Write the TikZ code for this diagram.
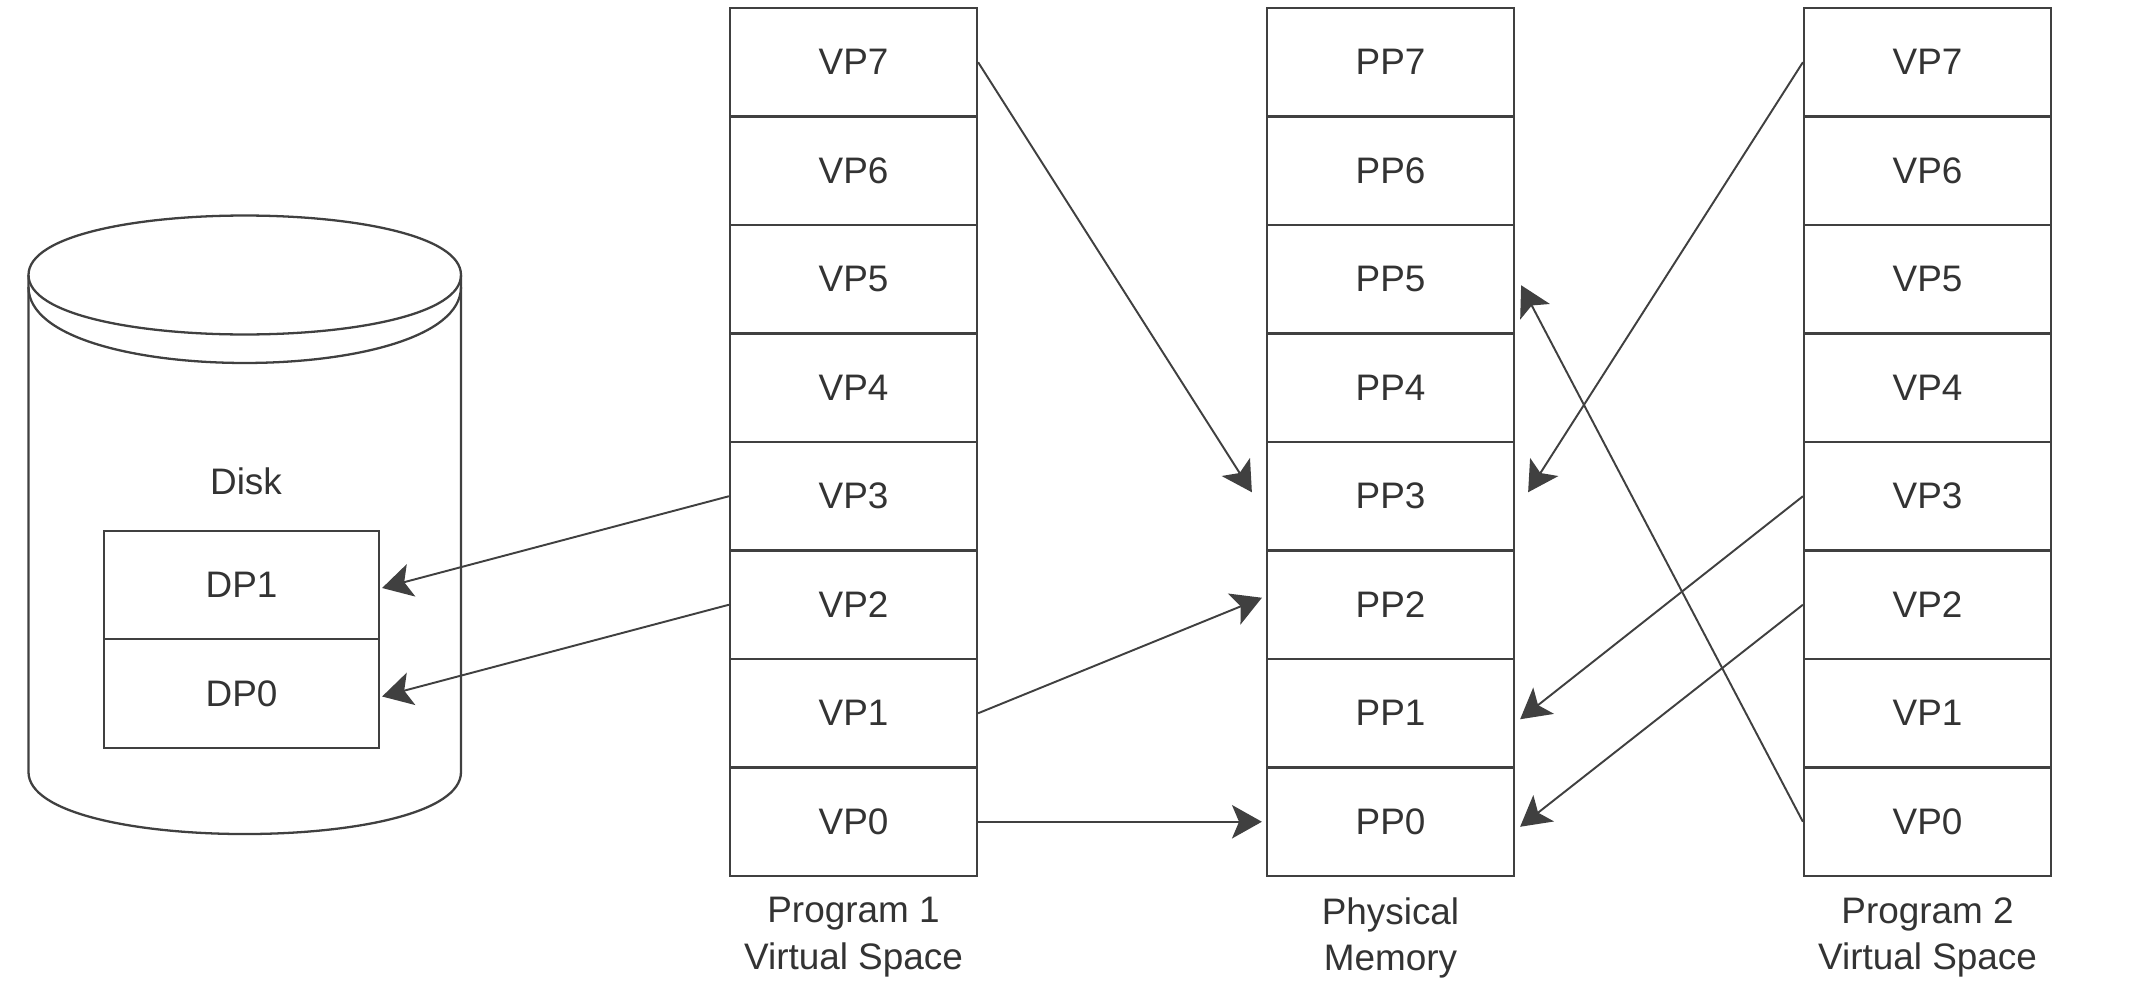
\documentclass[tikz,border=0pt]{standalone}
\usepackage{fontspec}
\setmainfont{Liberation Sans}
\usetikzlibrary{arrows.meta}
\definecolor{ink}{HTML}{404040}
\definecolor{txt}{HTML}{333333}

\begin{document}
\begin{tikzpicture}[x=0.02cm, y=-0.02cm,
  font=\fontsize{21}{26.6}\selectfont, text=txt,
  cell/.style={draw=ink, line width=1.3pt, fill=white, minimum width=4.94cm,
               minimum height=2.17cm, inner sep=0pt, anchor=center},
  dcell/.style={cell, minimum width=5.5cm},
  link/.style={draw=ink, line width=1.1pt,
               -{Stealth[length=17pt, width=19pt, inset=4pt]}},
  caption/.style={align=center, anchor=north, inner sep=0pt}]

% canvas
\fill[white] (0,0) rectangle (2140,1004);
\useasboundingbox (0,0) rectangle (2140,1004);

% disk drum
\draw[ink, line width=1.3pt, fill=white]
  (28.5,275) .. controls (28.5,195.7) and (461,195.7) .. (461,275)
  -- (461,772) .. controls (461,854.7) and (28.5,854.7) .. (28.5,772) -- cycle;
\draw[ink, line width=1.3pt]
  (28.5,275) .. controls (28.5,354.3) and (461,354.3) .. (461,275);
\draw[ink, line width=1.3pt]
  (28.5,287) .. controls (28.5,388.3) and (461,388.3) .. (461,287);
\node (disklabel) at (246,481) {Disk};
\node[dcell] (dp1) at (241.5,585) {DP1};
\node[dcell] (dp0) at (241.5,693.5) {DP0};

% page columns
\foreach \k in {0,...,7} {
  \node[cell] (p1v\k) at (853.5,{62.25+(7-\k)*108.5}) {VP\k};
  \node[cell] (pm\k)  at (1390.5,{62.25+(7-\k)*108.5}) {PP\k};
  \node[cell] (p2v\k) at (1927.5,{62.25+(7-\k)*108.5}) {VP\k};
}

% column captions
\node[caption] (cap1) at (853.5,897) {Program 1\\Virtual Space};
\node[caption] (capm) at (1390.5,897) {Physical\\Memory};
\node[caption] (cap2) at (1927.5,897) {Program 2\\Virtual Space};

% program 1 mappings
\draw[link] (p1v7.east) -- ([xshift=-0.28cm,yshift=0.08cm]pm3.west);
\draw[link] (p1v3.west) -- ([xshift=0.04cm,yshift=-0.06cm]dp1.east);
\draw[link] (p1v2.west) -- ([xshift=0.04cm,yshift=-0.06cm]dp0.east);
\draw[link] (p1v1.east) -- ([xshift=-0.08cm,yshift=0.14cm]pm2.west);
\draw[link] (p1v0.east) -- ([xshift=-0.08cm]pm0.west);

% program 2 mappings
\draw[link] (p2v7.west) -- ([xshift=0.26cm,yshift=0.08cm]pm3.east);
\draw[link] (p2v3.west) -- ([xshift=0.1cm,yshift=-0.12cm]pm1.east);
\draw[link] (p2v2.west) -- ([xshift=0.1cm,yshift=-0.1cm]pm0.east);
\draw[link] (p2v0.west) -- ([xshift=0.12cm,yshift=-0.12cm]pm5.east);
\end{tikzpicture}
\end{document}
